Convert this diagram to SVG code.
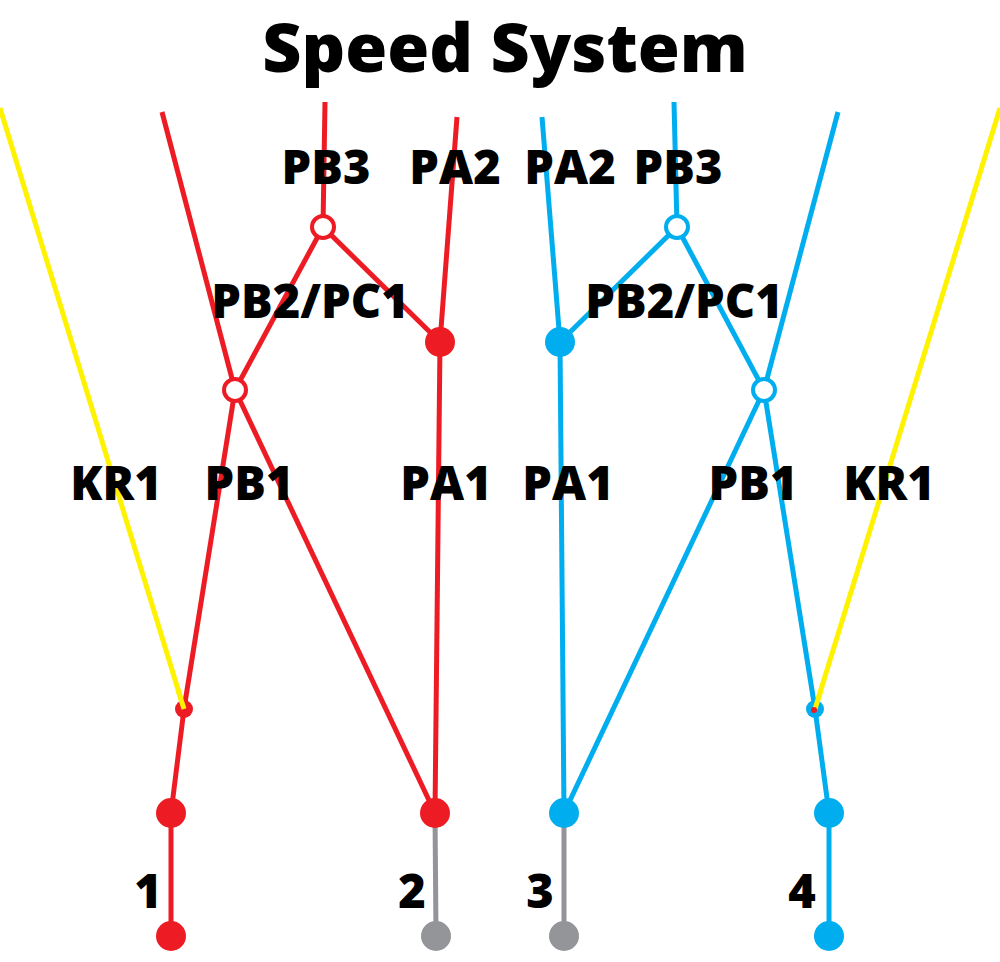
<svg xmlns="http://www.w3.org/2000/svg" width="1000" height="962" viewBox="0 0 1000 962">
<style>
.r{stroke:#ED1C24;stroke-width:5;fill:none}
.b{stroke:#00AEEF;stroke-width:5;fill:none}
.y{stroke:#FFF200;stroke-width:5;fill:none}
.g{stroke:#939598;stroke-width:5;fill:none}
.rf{fill:#ED1C24}
.bf{fill:#00AEEF}
.gf{fill:#939598}
.rh{fill:#fff;stroke:#ED1C24;stroke-width:4}
.bh{fill:#fff;stroke:#00AEEF;stroke-width:4}
text{font-family:"Open Sans","Liberation Sans",sans-serif;font-weight:800;fill:#000;text-anchor:middle}
.l{font-size:47px}
.t{font-size:68px}
</style>
<rect width="1000" height="962" fill="#fff"/>
<g id="connectors">
<line class="y" x1="0" y1="108" x2="184" y2="709"/>
<line class="y" x1="1000" y1="108" x2="815" y2="709"/>
<line class="r" x1="162" y1="112" x2="235" y2="390"/>
<line class="r" x1="325" y1="102" x2="323" y2="227"/>
<line class="r" x1="457" y1="117" x2="440" y2="342"/>
<line class="r" x1="323" y1="227" x2="440" y2="342"/>
<line class="r" x1="323" y1="227" x2="235" y2="390"/>
<line class="r" x1="235" y1="390" x2="184" y2="709"/>
<line class="r" x1="235" y1="390" x2="435" y2="813"/>
<line class="r" x1="440" y1="342" x2="435" y2="813"/>
<line class="r" x1="184" y1="709" x2="171" y2="813"/>
<line class="r" x1="171" y1="813" x2="171" y2="936"/>
<line class="g" x1="435" y1="813" x2="436" y2="936"/>
<line class="b" x1="838" y1="112" x2="764" y2="390"/>
<line class="b" x1="674" y1="102" x2="677" y2="227"/>
<line class="b" x1="542" y1="117" x2="560" y2="342"/>
<line class="b" x1="677" y1="227" x2="560" y2="342"/>
<line class="b" x1="677" y1="227" x2="764" y2="390"/>
<line class="b" x1="764" y1="390" x2="815" y2="709"/>
<line class="b" x1="764" y1="390" x2="564" y2="813"/>
<line class="b" x1="560" y1="342" x2="564" y2="813"/>
<line class="b" x1="815" y1="709" x2="829" y2="813"/>
<line class="b" x1="829" y1="813" x2="829" y2="936"/>
<line class="g" x1="564" y1="813" x2="564" y2="936"/>
</g>
<g id="n-red-pb3"><circle class="rh" cx="323" cy="227" r="11"/></g>
<g id="n-red-pb2"><circle class="rh" cx="235" cy="390" r="11"/></g>
<g id="n-red-pa2"><circle class="rf" cx="440" cy="342" r="15"/></g>
<g id="n-red-kr"><circle class="rf" cx="184" cy="709" r="9"/><line class="y" x1="178" y1="690" x2="184" y2="709"/></g>
<g id="n-red-1a"><circle class="rf" cx="171" cy="813" r="15"/></g>
<g id="n-red-1b"><circle class="rf" cx="171" cy="936" r="15"/></g>
<g id="n-red-2a"><circle class="rf" cx="435" cy="813" r="15"/></g>
<g id="n-grey-2b"><circle class="gf" cx="436" cy="936" r="15"/></g>
<g id="n-blue-pb3"><circle class="bh" cx="677" cy="227" r="11"/></g>
<g id="n-blue-pb2"><circle class="bh" cx="764" cy="390" r="11"/></g>
<g id="n-blue-pa2"><circle class="bf" cx="560" cy="342" r="15"/></g>
<g id="n-blue-kr"><circle class="bf" cx="815" cy="709" r="9"/><line class="y" x1="821" y1="690" x2="815" y2="709"/><circle class="rf" cx="814" cy="710" r="3"/></g>
<g id="n-blue-3a"><circle class="bf" cx="564" cy="813" r="15"/></g>
<g id="n-grey-3b"><circle class="gf" cx="564" cy="936" r="15"/></g>
<g id="n-blue-4a"><circle class="bf" cx="829" cy="813" r="15"/></g>
<g id="n-blue-4b"><circle class="bf" cx="829" cy="936" r="15"/></g>
<g id="labels">
<text class="t" x="505" y="72">Speed System</text>
<text class="l" x="326" y="184">PB3</text>
<text class="l" x="455" y="184">PA2</text>
<text class="l" x="570" y="184">PA2</text>
<text class="l" x="678" y="184">PB3</text>
<text class="l" x="310" y="318">PB2/PC1</text>
<text class="l" x="684" y="318">PB2/PC1</text>
<text class="l" x="116" y="500">KR1</text>
<text class="l" x="249" y="500">PB1</text>
<text class="l" x="446" y="500">PA1</text>
<text class="l" x="568" y="500">PA1</text>
<text class="l" x="753" y="500">PB1</text>
<text class="l" x="889" y="500">KR1</text>
<text class="l" x="148" y="908">1</text>
<text class="l" x="412" y="908">2</text>
<text class="l" x="540" y="908">3</text>
<text class="l" x="802" y="908">4</text>
</g>
</svg>
